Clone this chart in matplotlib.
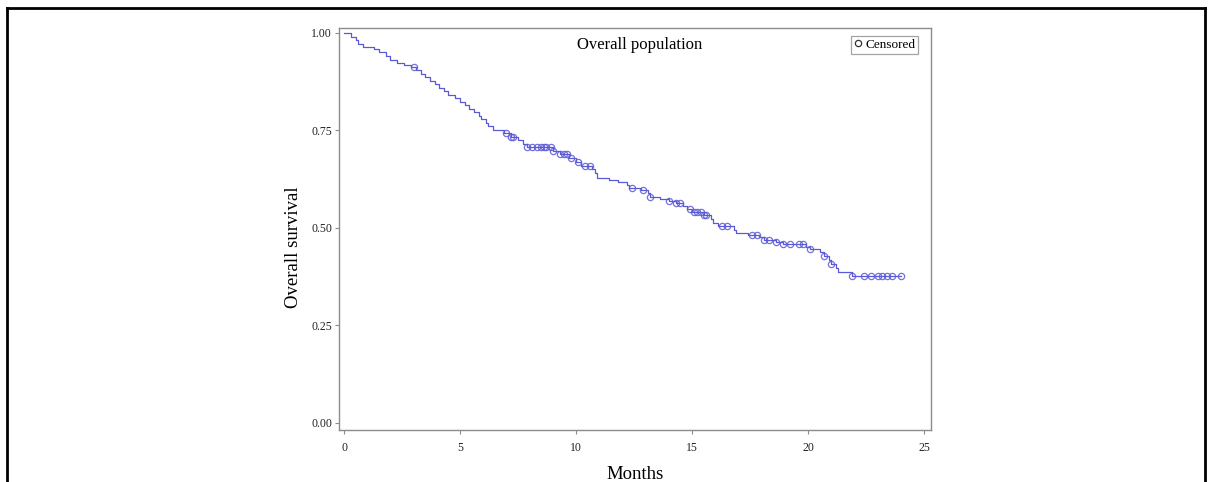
import numpy as np
import matplotlib
matplotlib.use('Agg')
import matplotlib.pyplot as plt
from matplotlib.lines import Line2D

# Kaplan-Meier step points (time in months, survival after drop)
step_t = [0.0, 0.3, 0.5, 0.6, 0.8, 1.3, 1.5, 1.8, 2.0, 2.3, 2.6, 2.9, 3.1, 3.3, 3.5,
          3.7, 3.9, 4.1, 4.3, 4.5, 4.8, 5.0, 5.2, 5.4, 5.6, 5.8, 5.9, 6.1, 6.2, 6.4,
          6.9, 7.2, 7.5, 7.7, 7.9, 9.0, 9.3, 9.7, 10.0, 10.2, 10.7, 10.8, 10.9, 11.4,
          11.8, 12.2, 12.3, 12.8, 13.1, 13.2, 13.6, 14.0, 14.3, 14.6, 14.8, 15.0, 15.5,
          15.8, 15.9, 16.1, 16.8, 16.9, 17.4, 17.9, 18.1, 18.6, 18.9, 19.9, 20.1, 20.5,
          20.7, 20.9, 21.0, 21.2, 21.3, 21.9]
step_s = [1.000, 0.991, 0.982, 0.973, 0.964, 0.959, 0.950, 0.941, 0.932, 0.923, 0.918,
          0.914, 0.905, 0.896, 0.887, 0.878, 0.869, 0.860, 0.851, 0.842, 0.833, 0.824,
          0.815, 0.806, 0.797, 0.788, 0.779, 0.770, 0.761, 0.752, 0.743, 0.734, 0.725,
          0.716, 0.707, 0.698, 0.689, 0.680, 0.670, 0.660, 0.650, 0.640, 0.628, 0.623,
          0.617, 0.610, 0.603, 0.597, 0.590, 0.580, 0.575, 0.570, 0.563, 0.557, 0.548,
          0.540, 0.533, 0.523, 0.514, 0.505, 0.496, 0.487, 0.482, 0.476, 0.470, 0.465,
          0.460, 0.452, 0.446, 0.438, 0.428, 0.417, 0.407, 0.397, 0.387, 0.377]
end_t = 24.0

# censoring times
cens_t = [3.0, 7.0, 7.2, 7.3, 7.9, 8.1, 8.3, 8.5, 8.6, 8.7, 8.9, 9.0, 9.3, 9.5, 9.6,
          9.8, 10.1, 10.4, 10.6, 12.4, 12.9, 13.2, 14.0, 14.3, 14.5, 14.9, 15.1, 15.2,
          15.4, 15.5, 15.6, 16.3, 16.5, 17.6, 17.8, 18.1, 18.3, 18.6, 18.9, 19.2, 19.6,
          19.8, 20.1, 20.7, 21.0, 21.9, 22.4, 22.7, 23.0, 23.2, 23.4, 23.6, 24.0]

x_ticks = [0, 5, 10, 15, 20, 25]
y_ticks = [0.00, 0.25, 0.50, 0.75, 1.00]

blue = '#5a5ad6'
grey = '#8c8c8c'
serif = ['Liberation Serif', 'DejaVu Serif']

fig = plt.figure(figsize=(12.1, 4.82), dpi=100)

# black frame lines of the original image (top, left, right)
for xy in ([(0.0058, 0.9834), (0.9955, 0.9834)], [(0.0058, 0.9834), (0.0058, 0.0)],
           [(0.9955, 0.9834), (0.9955, 0.0)]):
    fig.add_artist(Line2D([p[0] for p in xy], [p[1] for p in xy], color='black', lw=2.0,
                          transform=fig.transFigure))

ax = fig.add_axes([0.2802, 0.1079, 0.4893, 0.834])

t_all = np.array(step_t + [end_t])
s_all = np.array(step_s + [step_s[-1]])
ax.step(t_all, s_all, where='post', color=blue, lw=0.9)

idx = np.searchsorted(np.array(step_t), np.array(cens_t), side='right') - 1
cens_s = np.array(step_s)[idx]
ax.plot(cens_t, cens_s, ls='none', marker='o', ms=4.5, mfc='none', mec=blue, mew=0.9,
        alpha=0.85, label='Censored')

ax.set_xlim(-0.215, 25.3)
ax.set_ylim(-0.018, 1.0128)
ax.set_xticks(x_ticks)
ax.set_yticks(y_ticks)
ax.set_xticklabels([str(v) for v in x_ticks], family=serif, fontsize=8.5)
ax.set_yticklabels([f'{v:.2f}' for v in y_ticks], family=serif, fontsize=8.5)
ax.tick_params(axis='both', direction='out', length=3, width=0.8, color=grey,
               labelcolor='#222222')
ax.tick_params(axis='x', pad=6)
ax.tick_params(axis='y', pad=2)
for sp in ax.spines.values():
    sp.set_color(grey)
    sp.set_linewidth(1.0)

ax.set_xlabel('Months', family=serif, fontsize=13.5, labelpad=8)
ax.set_ylabel('Overall survival', family=serif, fontsize=13.5)
ax.yaxis.set_label_coords(-0.063, 0.455)
ax.text(0.508, 0.958, 'Overall population', transform=ax.transAxes, ha='center',
        va='center', family=serif, fontsize=12)

leg = ax.legend(loc='upper right', bbox_to_anchor=(0.978, 0.98), prop={'family': serif, 'size': 9.5},
                frameon=True, fancybox=False, handlelength=0.6, handletextpad=0.3,
                borderpad=0.2, borderaxespad=0.0)
leg.get_frame().set_edgecolor(grey)
leg.get_frame().set_linewidth(0.9)
for h in leg.legend_handles:
    h.set_markeredgecolor('#333333')
    h.set_alpha(1)

fig.savefig('out.png', dpi=100)
